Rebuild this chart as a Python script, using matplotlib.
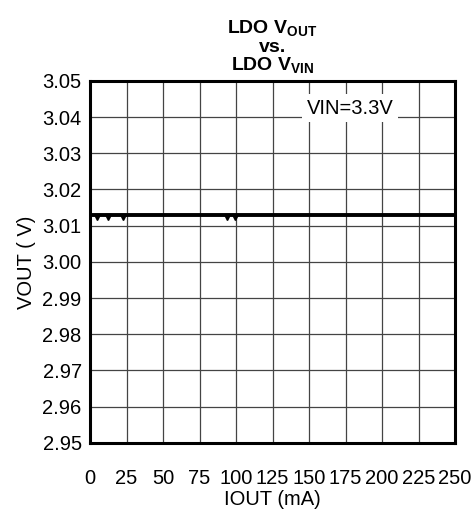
import matplotlib.pyplot as plt
import numpy as np

plt.rcParams['font.family'] = ['Liberation Sans', 'DejaVu Sans']
plt.rcParams['mathtext.fontset'] = 'custom'
plt.rcParams['mathtext.rm'] = 'Liberation Sans'
plt.rcParams['mathtext.bf'] = 'Liberation Sans:bold'

# data
iout = [0, 250]
vout = [3.013, 3.013]
dip_x = [5, 12.5, 22.5, 94, 99]
dip_y = [3.0124, 3.0124, 3.0124, 3.0124, 3.0124]
xticks = [0, 25, 50, 75, 100, 125, 150, 175, 200, 225, 250]
yticks = [2.95, 2.96, 2.97, 2.98, 2.99, 3.00, 3.01, 3.02, 3.03, 3.04, 3.05]

fig = plt.figure(figsize=(4.74, 5.12), dpi=100)
ax = fig.add_axes([0.19, 0.135, 0.77, 0.707])

ax.plot(iout, vout, color='black', lw=2.8, solid_capstyle='butt', zorder=3)
ax.plot(dip_x, dip_y, 'v', color='black', ms=4.5, zorder=3)

ax.set_xlim(0, 250)
ax.set_ylim(2.95, 3.05)
ax.set_xticks(xticks)
ax.set_yticks(yticks)
ax.set_xticklabels([str(t) for t in xticks])
ax.set_yticklabels([f'{t:.2f}' for t in yticks])
ax.tick_params(length=0, labelsize=14.5)
ax.tick_params(axis='x', pad=19)
ax.tick_params(axis='y', pad=6)
ax.grid(True, color='#444444', lw=0.9)
ax.set_axisbelow(True)
for s in ax.spines.values():
    s.set_linewidth(2.2)

ax.set_xlabel('IOUT (mA)', fontsize=14.5, labelpad=1)
ax.set_ylabel('VOUT ( V)', fontsize=14.5, labelpad=5)

ax.text(178, 3.0425, 'VIN=3.3V', fontsize=14.5, ha='center', va='center',
        bbox=dict(facecolor='white', edgecolor='none', pad=3), zorder=4)

ax.set_title('LDO V$_{\\mathbf{OUT}}$\nvs.\nLDO V$_{\\mathbf{VIN}}$',
             fontsize=14, fontweight='bold', linespacing=1.0, pad=7)

fig.savefig('out.png', dpi=100)
